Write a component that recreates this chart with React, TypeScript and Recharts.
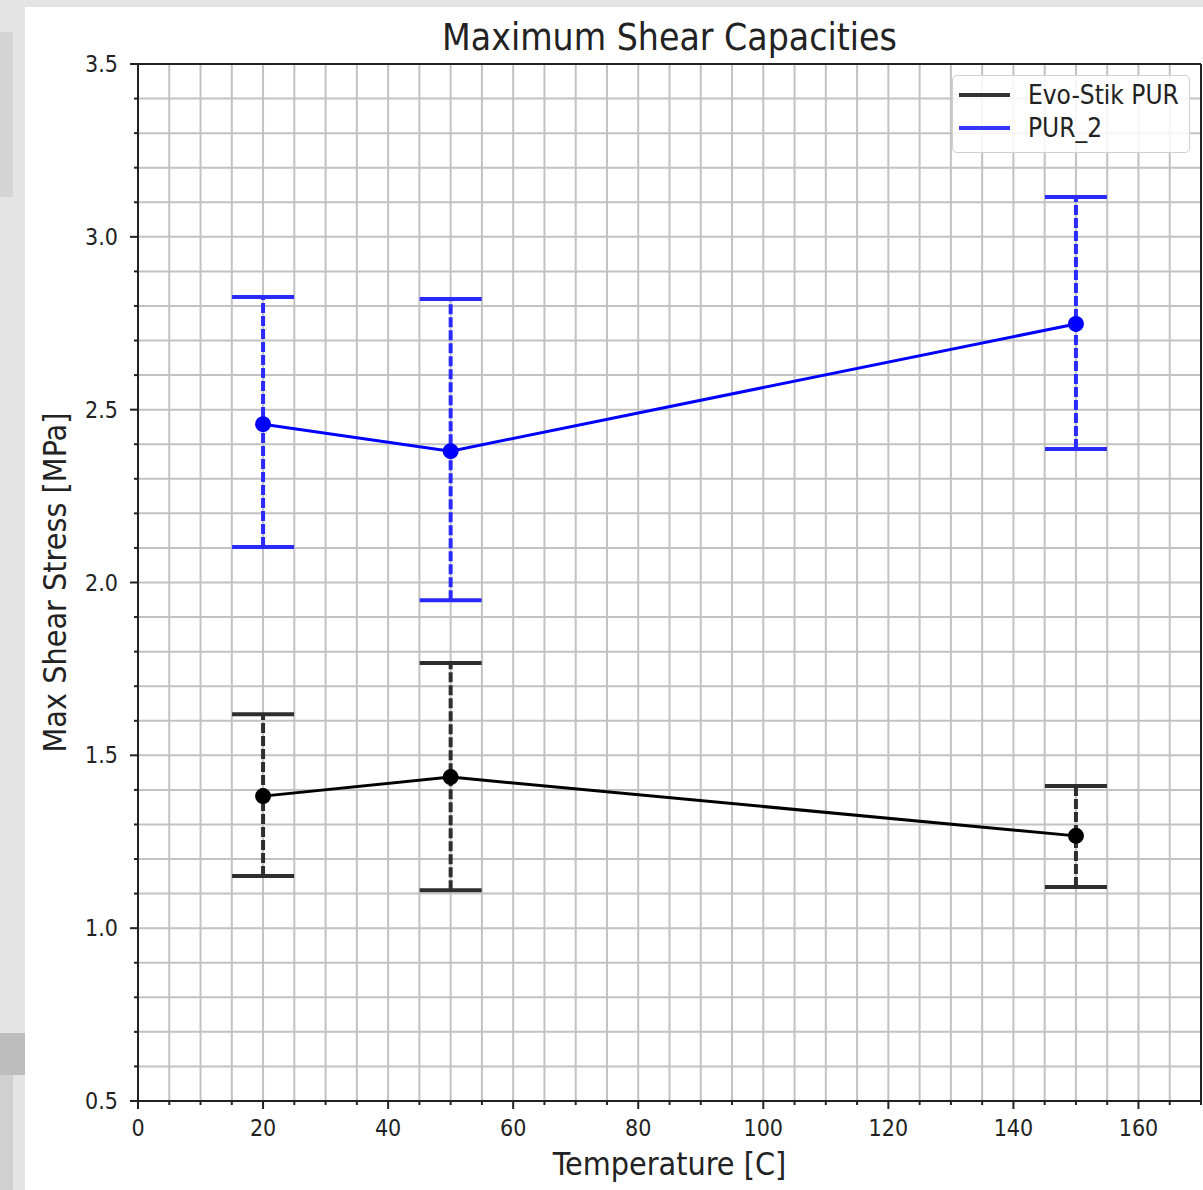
import React from "react";
import { ScatterChart, Scatter, XAxis, YAxis, CartesianGrid, ErrorBar, ReferenceLine, Legend } from "recharts";

// values
const temps = [20, 50, 150];
const evoMean = [1.382, 1.437, 1.267];
const evoLow = [1.151, 1.11, 1.119];
const evoHigh = [1.619, 1.767, 1.411];
const pur2Mean = [2.458, 2.38, 2.748];
const pur2Low = [2.103, 1.949, 2.386];
const pur2High = [2.826, 2.82, 3.115];

const seriesNames = ["Evo-Stik PUR", "PUR_2"];
const xTicks = Array.from({ length: 35 }, (_, i) => i * 5);
const yTicks = Array.from({ length: 31 }, (_, i) => Math.round((0.5 + i * 0.1) * 10) / 10);
const xMajor = [0, 20, 40, 60, 80, 100, 120, 140, 160];
const yMajor = [0.5, 1.0, 1.5, 2.0, 2.5, 3.0, 3.5];

const build = (mean: number[], lo: number[], hi: number[]) =>
  temps.map((t, i) => ({ x: t, y: mean[i], err: [mean[i] - lo[i], hi[i] - mean[i]] }));

const evoData = build(evoMean, evoLow, evoHigh);
const pur2Data = build(pur2Mean, pur2Low, pur2High);

const FONT = "'DejaVu Sans Condensed', 'DejaVu Sans'";
const INK = "#222";
const BLACK = "#000";
const BLUE = "#0000ff";

const XTick = (props: any) => {
  const { x, y, payload } = props;
  const major = xMajor.includes(payload.value);
  return (
    <g>
      <line x1={x} y1={y} x2={x} y2={y + (major ? 8 : 4)} stroke={INK} strokeWidth={2} />
      {major && (
        <text x={x} y={y + 35} textAnchor="middle" fontSize={23} fontFamily={FONT} fontStretch="condensed" fill={INK}>
          {payload.value}
        </text>
      )}
    </g>
  );
};

const YTick = (props: any) => {
  const { x, y, payload } = props;
  const major = yMajor.some((m) => Math.abs(m - payload.value) < 1e-6);
  return (
    <g>
      <line x1={x} y1={y} x2={x - (major ? 8 : 4)} y2={y} stroke={INK} strokeWidth={2} />
      {major && (
        <text x={x - 20} y={y} textAnchor="end" dominantBaseline="central" fontSize={23} fontFamily={FONT} fontStretch="condensed" fill={INK}>
          {payload.value.toFixed(1)}
        </text>
      )}
    </g>
  );
};

const dot = (color: string) => (p: any) => <circle cx={p.cx} cy={p.cy} r={8} fill={color} />;

const LegendBox = () => (
  <div
    style={{
      background: "rgba(255,255,255,0.85)",
      border: "1.5px solid #d0d0d0",
      borderRadius: 5,
      padding: "2px 10px 8px 6px",
      fontFamily: FONT,
      fontStretch: "condensed",
      fontSize: 26,
      color: INK,
      boxSizing: "border-box",
    }}
  >
    {seriesNames.map((n, i) => (
      <div key={n} style={{ display: "flex", alignItems: "center", height: 33 }}>
        <span style={{ display: "inline-block", width: 51, height: 4, background: i === 0 ? "#333" : "#3535ff", marginRight: 18 }} />
        <span>{n}</span>
      </div>
    ))}
  </div>
);

export default function App() {
  return (
    <div style={{ position: "absolute", left: 0, top: 0, width: 1203, height: 1190, background: "#e4e4e4", overflow: "hidden" }}>
      <style>{`
        .recharts-errorBar > line:nth-of-type(2) { stroke-dasharray: 10 3; stroke-width: 4; }
      `}</style>
      <div style={{ position: "absolute", left: 0, top: 32, width: 13, height: 165, background: "#d4d4d4" }} />
      <div style={{ position: "absolute", left: 0, top: 1075, width: 13, height: 115, background: "#d0d0d0" }} />
      <div style={{ position: "absolute", left: 0, top: 1033, width: 25, height: 42, background: "#bdbdbd" }} />
      <div style={{ position: "absolute", left: 25, top: 7, width: 1178, height: 1183, background: "#fff" }} />
      <div
        style={{
          position: "absolute",
          left: 138,
          width: 1063,
          top: 16,
          textAlign: "center",
          fontFamily: FONT,
          fontStretch: "condensed",
          fontSize: 37,
          color: INK,
        }}
      >
        Maximum Shear Capacities
      </div>
      <div style={{ position: "absolute", left: 0, top: 0 }}>
        <ScatterChart width={1203} height={1190} margin={{ top: 64, right: 2, bottom: 0, left: 0 }}>
          <CartesianGrid stroke="#c2c2c2" strokeWidth={2} />
          <XAxis
            type="number"
            dataKey="x"
            domain={[0, 170]}
            ticks={xTicks}
            interval={0}
            height={89}
            tickSize={0}
            tickMargin={0}
            tick={<XTick />}
            axisLine={{ stroke: INK, strokeWidth: 2 }}
            allowDataOverflow
            label={{
              content: (p: any) => {
                const vb = p.viewBox;
                return (
                  <text x={vb.x + vb.width / 2} y={vb.y + 63} textAnchor="middle" dominantBaseline="central" fontSize={32} fontFamily={FONT} fontStretch="condensed" fill={INK}>
                    Temperature [C]
                  </text>
                );
              },
            }}
          />
          <YAxis
            type="number"
            dataKey="y"
            domain={[0.5, 3.5]}
            ticks={yTicks}
            interval={0}
            width={138}
            tickSize={0}
            tickMargin={0}
            tick={<YTick />}
            axisLine={{ stroke: INK, strokeWidth: 2 }}
            allowDataOverflow
            label={{
              content: (p: any) => {
                const vb = p.viewBox;
                const cx = vb.x + 55;
                const cy = vb.y + vb.height / 2;
                return (
                  <text x={cx} y={cy} transform={`rotate(-90 ${cx} ${cy})`} textAnchor="middle" dominantBaseline="central" fontSize={32} fontFamily={FONT} fontStretch="condensed" fill={INK}>
                    Max Shear Stress [MPa]
                  </text>
                );
              },
            }}
          />
          <ReferenceLine y={3.5} stroke={INK} strokeWidth={2} />
          <ReferenceLine x={170} stroke={INK} strokeWidth={2} />
          <Legend
            layout="vertical"
            align="center"
            verticalAlign="middle"
            wrapperStyle={{ top: 75, left: 952, width: 238 }}
            content={<LegendBox />}
          />
          <Scatter
            name={seriesNames[0]}
            data={evoData}
            fill={BLACK}
            line={{ stroke: BLACK, strokeWidth: 3 }}
            lineType="joint"
            shape={dot(BLACK)}
            isAnimationActive={false}
          >
            <ErrorBar dataKey="err" direction="y" width={31} stroke="#2e2e2e" strokeWidth={4} isAnimationActive={false} />
          </Scatter>
          <Scatter
            name={seriesNames[1]}
            data={pur2Data}
            fill={BLUE}
            line={{ stroke: BLUE, strokeWidth: 3 }}
            lineType="joint"
            shape={dot(BLUE)}
            isAnimationActive={false}
          >
            <ErrorBar dataKey="err" direction="y" width={31} stroke="#2a2aff" strokeWidth={4} isAnimationActive={false} />
          </Scatter>
        </ScatterChart>
      </div>
    </div>
  );
}
